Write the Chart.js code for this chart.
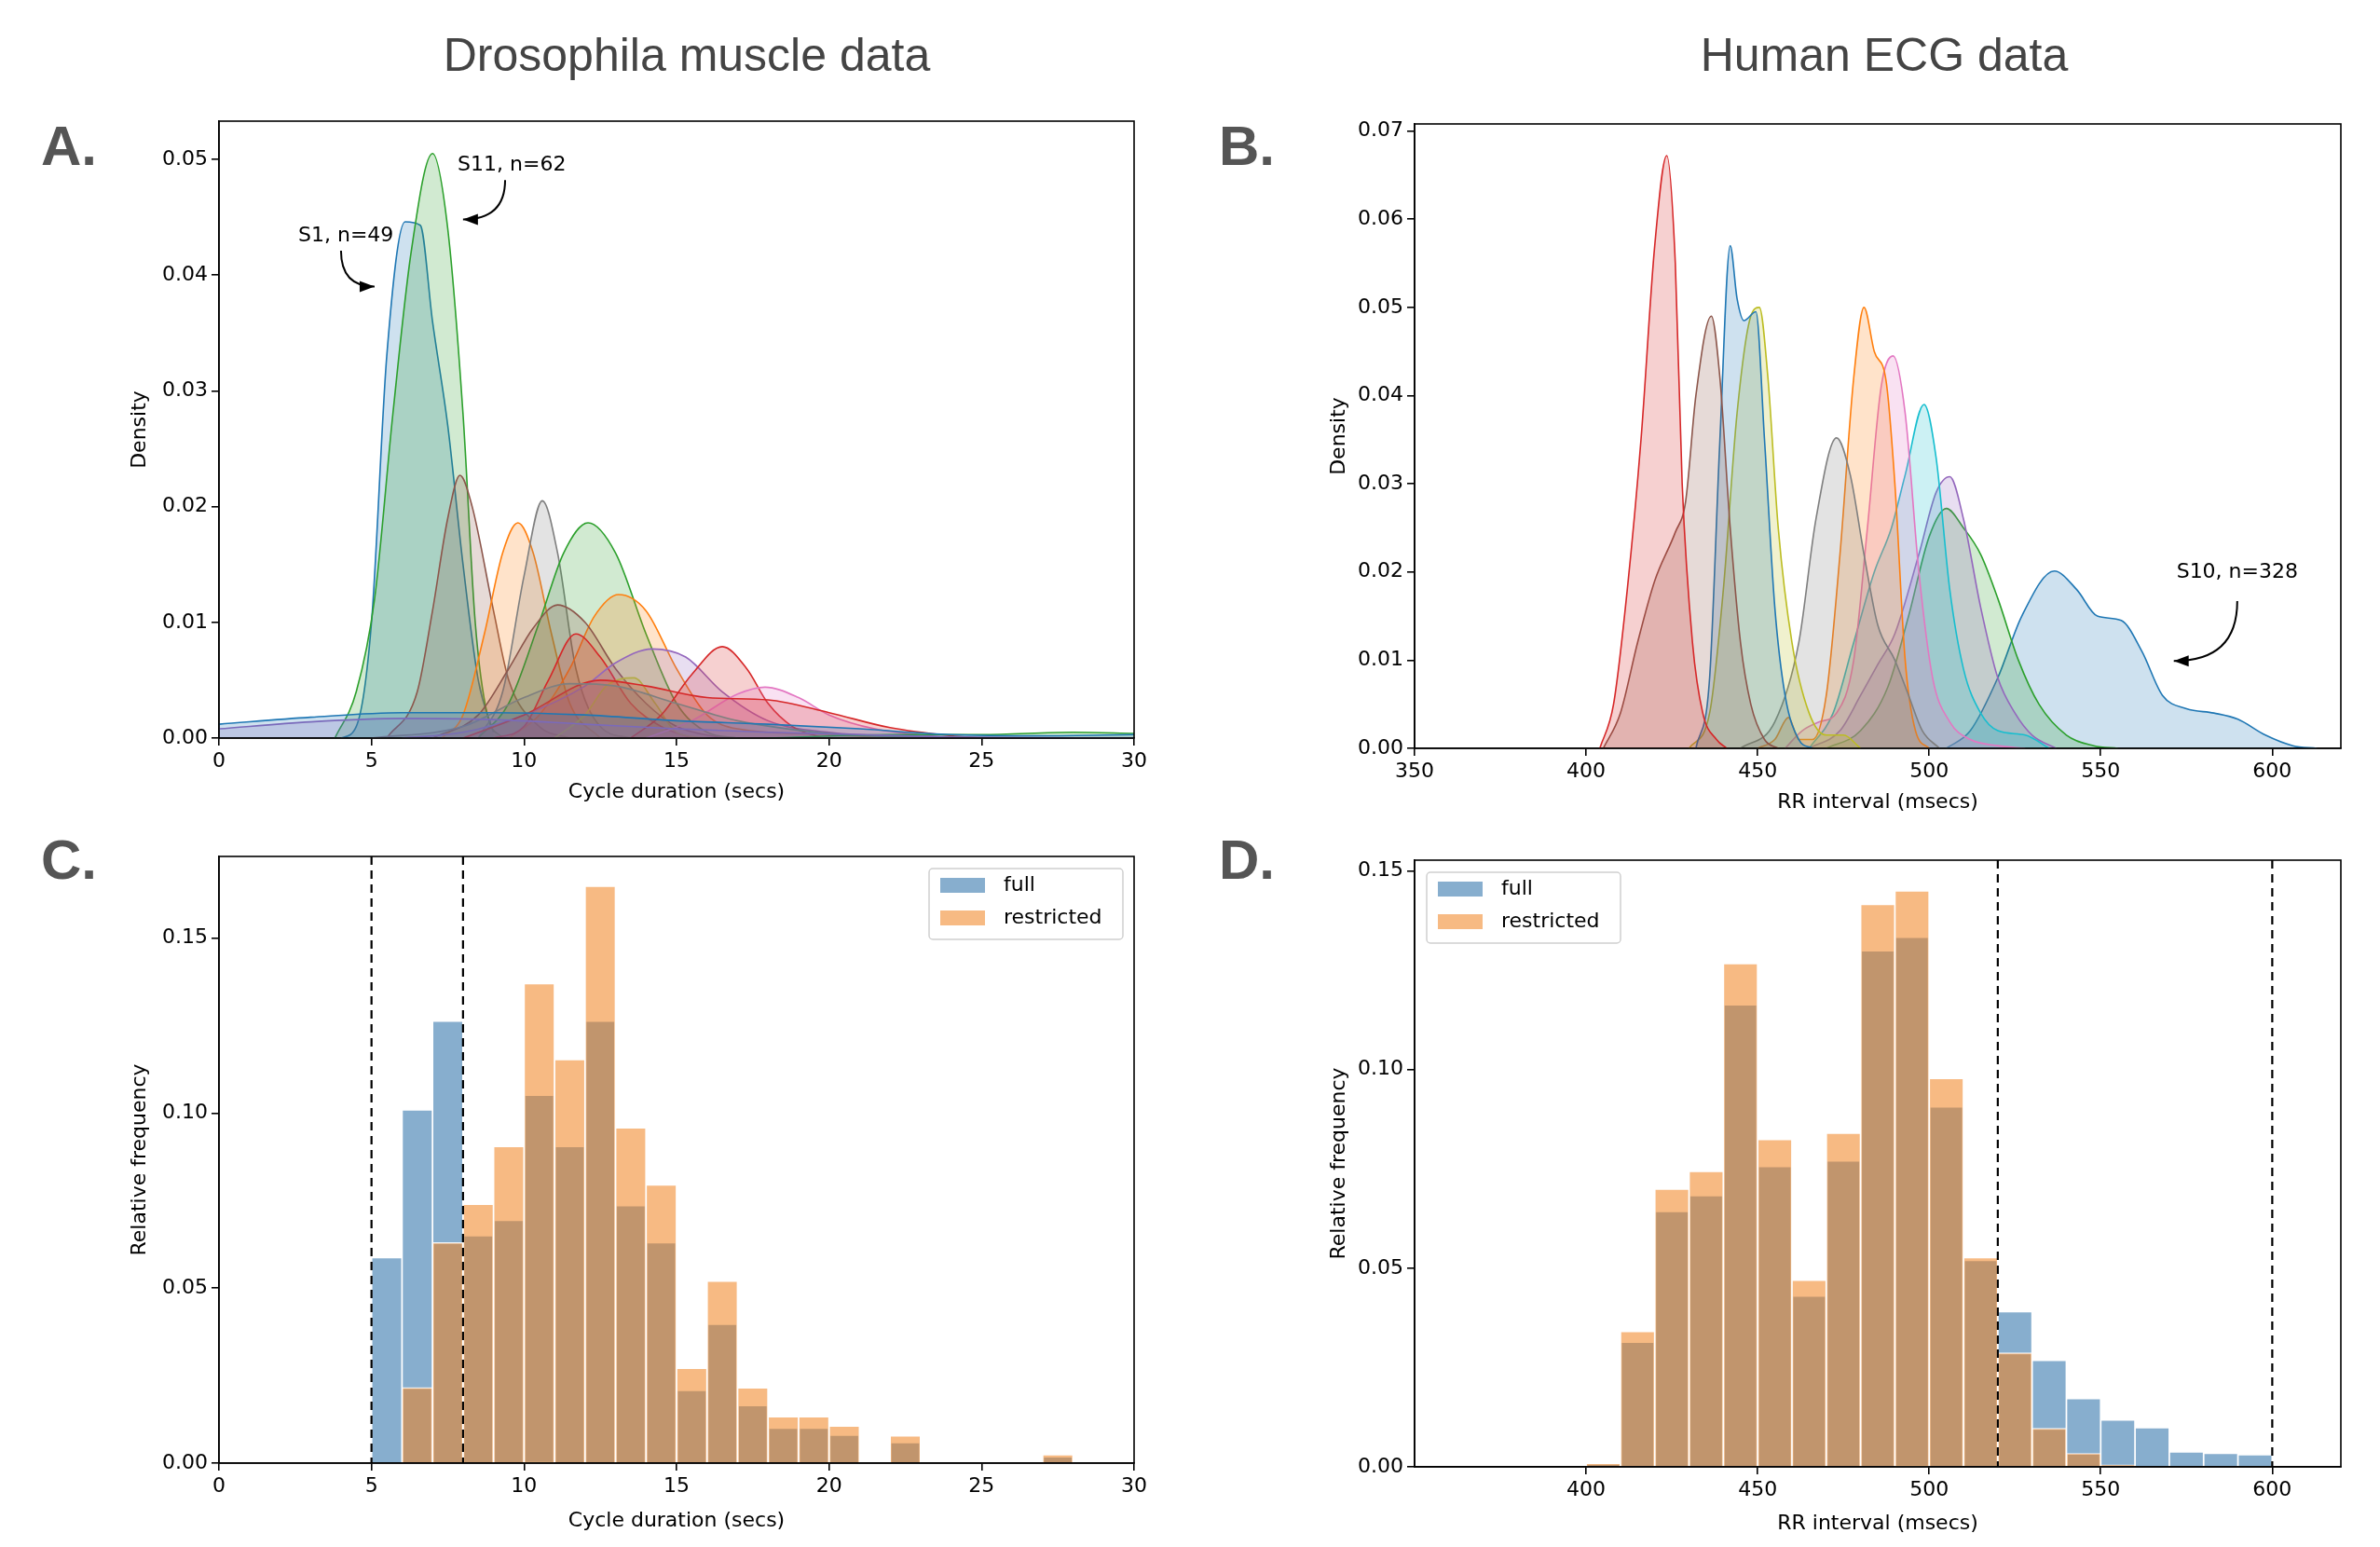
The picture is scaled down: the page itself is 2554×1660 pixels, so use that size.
<!DOCTYPE html>
<html><head><meta charset="utf-8">
<script src="https://cdn.jsdelivr.net/npm/chart.js@4"></script>
<style>
body{margin:0;background:#fff;}
#wrap{position:relative;width:2554px;height:1660px;background:#fff;font-family:"DejaVu Sans",sans-serif;}
canvas{position:absolute;z-index:1;}
.t{position:absolute;z-index:2;color:#444;font-size:50px;font-family:"Liberation Sans",Arial,sans-serif;transform:translateX(-50%);white-space:nowrap;}
.l{position:absolute;z-index:2;color:#555;font-size:60px;font-weight:bold;font-family:"Liberation Sans",Arial,sans-serif;}
</style></head><body>
<div id="wrap">
<div class="t" style="left:737px;top:30px;">Drosophila muscle data</div>
<div class="t" style="left:2022px;top:30px;">Human ECG data</div>
<div class="l" style="left:44px;top:122px;">A.</div>
<div class="l" style="left:1308px;top:122px;">B.</div>
<div class="l" style="left:44px;top:888px;">C.</div>
<div class="l" style="left:1308px;top:888px;">D.</div>
<canvas id="cA" width="1160" height="790" style="left:90px;top:100px"></canvas>
<canvas id="cB" width="1170" height="790" style="left:1370px;top:100px"></canvas>
<canvas id="cC" width="1160" height="775" style="left:90px;top:880px"></canvas>
<canvas id="cD" width="1170" height="775" style="left:1370px;top:880px"></canvas>
</div>
<script>
// ---------- Panel A: Drosophila KDE curves ----------
const aBlueX = [4,4.5,5,5.5,6.1,6.6,7,7.5,8,8.5,9];
const aBlueY = [0,0.001,0.01,0.033,0.0446,0.0443,0.036,0.027,0.015,0.005,0.0005];
const aGreenX = [3.8,4.5,5.1,5.7,6.3,7.0,7.5,8.0,8.4,8.8,9.3];
const aGreenY = [0,0.004,0.012,0.028,0.042,0.0505,0.044,0.028,0.01,0.002,0];
const aBrownX = [5.5,6.5,7,7.5,7.9,8.3,9,9.5,10.5,11.5];
const aBrownY = [0,0.004,0.011,0.019,0.0227,0.02,0.011,0.005,0.001,0];
const aOrangeX = [7.3,8,8.7,9.3,9.8,10.3,10.9,11.5,12.5];
const aOrangeY = [0,0.002,0.009,0.016,0.0186,0.016,0.009,0.003,0];
const aGreyX = [8.5,9.3,10,10.6,11.1,11.7,12.5,13.5];
const aGreyY = [0,0.004,0.014,0.0205,0.016,0.006,0.001,0];
const aGreen2X = [8.5,9.5,10.5,11.3,12.1,13,14,15,16,17];
const aGreen2Y = [0,0.003,0.01,0.016,0.0186,0.016,0.009,0.003,0.0005,0];
const aOrange2X = [9.5,10.5,11.5,12.3,13.1,14,15,16,17,20,22];
const aOrange2Y = [0,0.002,0.006,0.0105,0.0124,0.011,0.006,0.002,0.0008,0.0003,0];
const aBrown2X = [7,8.5,9.5,10.3,11.1,12,13,14,15,16.5];
const aBrown2Y = [0,0.002,0.006,0.0095,0.0115,0.01,0.006,0.003,0.001,0];
const aRedX = [9,10,10.8,11.7,12.5,13.5,14.5,15.5];
const aRedY = [0,0.001,0.005,0.009,0.007,0.003,0.001,0];
const aPurpleX = [6,8,10,12,13,14.2,15.3,16.5,18,20,23,25];
const aPurpleY = [0,0.0005,0.002,0.0045,0.0065,0.0077,0.007,0.004,0.0015,0.0005,0.0001,0];
const aRed2X = [13.5,14.5,15.5,16.5,17.3,18,18.8,19.8];
const aRed2Y = [0,0.002,0.0055,0.0079,0.006,0.003,0.001,0];
const aPinkX = [14,15.5,17,17.9,19,20,21.5,24];
const aPinkY = [0,0.0015,0.0038,0.0044,0.0035,0.002,0.0008,0];
const aRed3X = [8,10,12.5,14,16,18,20,22,24,25];
const aRed3Y = [0,0.002,0.005,0.0045,0.0035,0.0033,0.0022,0.0009,0.0002,0];
const aOliveX = [11,12,12.7,13.6,14.3,15,16];
const aOliveY = [0,0.002,0.0045,0.0052,0.003,0.0005,0];
const aBlueFlatX = [0,3,6,9,12,15,18,21,24,27,30];
const aBlueFlatY = [0.0012,0.0018,0.0022,0.0022,0.002,0.0015,0.0012,0.0008,0.0003,0.0002,0.0003];
const aPurpleFlatX = [0,3,6,9,12,15,18,21,24,30];
const aPurpleFlatY = [0.0008,0.0014,0.0017,0.0016,0.0012,0.0008,0.0005,0.0003,0.0001,0];
const aGreyBroadX = [5,8,10,11.5,13,15,17,20,23];
const aGreyBroadY = [0,0.001,0.0035,0.0047,0.0045,0.003,0.0015,0.0004,0];
const aTealFlatX = [18,22,25,28,30];
const aTealFlatY = [0,0.0003,0.0003,0.0005,0.0004];

// ---------- Panel B: ECG KDE curves ----------
const bRedX = [404,408,412,416,420,423.5,426,428,431,434,438,441];
const bRedY = [0,0.005,0.018,0.035,0.057,0.0672,0.055,0.03,0.012,0.004,0.001,0];
const bBrownX = [405,410,415,420,426,429,432,436.5,439,442,445,448,452,456];
const bBrownY = [0,0.004,0.012,0.019,0.0245,0.028,0.04,0.049,0.042,0.025,0.012,0.005,0.001,0];
const bBlueX = [432,436,439,442,444,446,449.5,452,455,458,462,466];
const bBlueY = [0,0.008,0.035,0.057,0.051,0.0485,0.0495,0.035,0.016,0.006,0.001,0];
const bOliveX = [430,436,440,444,448,450.5,453,456,460,465,470,475,480];
const bOliveY = [0,0.004,0.018,0.038,0.049,0.050,0.042,0.025,0.012,0.004,0.0015,0.0015,0];
const bGreyX = [445,455,462,467,473,477,481,485,490,494,498,503];
const bGreyY = [0,0.003,0.012,0.026,0.0352,0.031,0.022,0.014,0.01,0.006,0.002,0];
const bOrangeX = [450,455,459,462,466,470,474,478,481,484,487.5,490,493,496,500];
const bOrangeY = [0,0.001,0.0035,0.001,0.001,0.006,0.022,0.042,0.050,0.045,0.0415,0.03,0.01,0.002,0];
const bPinkX = [458,463,468,473,478,482,486,489.5,493,497,501,506,512,520,528];
const bPinkY = [0,0.002,0.003,0.004,0.01,0.025,0.041,0.0445,0.038,0.02,0.008,0.003,0.001,0.0003,0];
const bCyanX = [465,472,478,484,489,493,498.5,502,506,510,515,520,528,535];
const bCyanY = [0,0.004,0.012,0.02,0.025,0.031,0.039,0.033,0.018,0.009,0.004,0.002,0.0015,0];
const bPurpleX = [465,474,480,485,490,497,502,506,510,515,520,525,530,537];
const bPurpleY = [0,0.002,0.006,0.0095,0.013,0.022,0.029,0.0308,0.026,0.016,0.008,0.004,0.0015,0];
const bGreenX = [470,480,488,494,500,505,510,515,520,526,532,540,548,555];
const bGreenY = [0,0.002,0.007,0.015,0.024,0.0272,0.025,0.022,0.017,0.01,0.005,0.0015,0.0003,0];
const bS10X = [505,512,520,527,536.5,543,549,556,562,568,575,583,590,598,606,613];
const bS10Y = [0,0.002,0.008,0.015,0.0201,0.018,0.015,0.0145,0.011,0.006,0.0045,0.004,0.0033,0.0015,0.0003,0];

// ---------- Panel C: histogram (bins width 1, starting at 5) ----------
const cBinStart = 5, cBinWidth = 1;
const cFull = [0.0587,0.1009,0.1263,0.065,0.0694,0.1051,0.0905,0.1263,0.0736,0.063,0.0208,0.0397,0.0165,0.010,0.010,0.008,0,0.0059,0,0,0,0,0.0018];
const cRestricted = [0,0.0216,0.063,0.074,0.0905,0.137,0.1153,0.1648,0.0958,0.0795,0.0271,0.052,0.0215,0.0133,0.0133,0.0106,0,0.0078,0,0,0,0,0.0024];
const cCutoffs = [5,8];

// ---------- Panel D: histogram (bins width 10, starting at 400) ----------
const dBinStart = 400, dBinWidth = 10;
const dFull = [0.0008,0.0314,0.0643,0.0683,0.1163,0.0756,0.043,0.077,0.1299,0.1333,0.0906,0.052,0.0391,0.0268,0.0172,0.0118,0.0099,0.0038,0.0034,0.0031];
const dRestricted = [0.0009,0.0341,0.0699,0.0744,0.1267,0.0824,0.047,0.084,0.1416,0.145,0.0978,0.0527,0.0287,0.0097,0.0034,0.0005,0,0,0,0];
const dCutoffs = [520,600];

const seriesLabels = ['full','restricted'];

// ---------- helpers ----------
const TAB = {blue:'31,119,180',orange:'255,127,14',green:'44,160,44',red:'214,39,40',purple:'148,103,189',brown:'140,86,75',pink:'227,119,194',grey:'127,127,127',olive:'188,189,34',cyan:'23,190,207'};
const FONT = {family:'"DejaVu Sans"', size:22};
function kde(xs, ys, col){
  return {data: xs.map((x,i)=>({x:x,y:ys[i]})), borderColor:'rgb('+col+')', backgroundColor:'rgba('+col+',0.22)',
    fill:'origin', borderWidth:1.6, pointRadius:0, cubicInterpolationMode:'monotone'};
}
function bars(start,w,vals){ return vals.map((v,i)=>({x:start+w*(i+0.5), y:v})); }

const frame = {id:'frame', afterDraw(c){const a=c.chartArea,x=c.ctx;x.save();x.strokeStyle='#000';x.lineWidth=1.6;x.strokeRect(a.left,a.top,a.right-a.left,a.bottom-a.top);x.restore();}};
const whiteBg = {id:'wbg', beforeDraw(c){const x=c.ctx;x.save();x.fillStyle='#fff';x.fillRect(0,0,c.width,c.height);x.restore();}};
const cutLines = {id:'cut', afterDatasetsDraw(c,args,opts){const x=c.ctx,a=c.chartArea;x.save();x.strokeStyle='#000';x.lineWidth=2.2;x.setLineDash([9,6]);
  (opts.values||[]).forEach(v=>{const px=c.scales.x.getPixelForValue(v);x.beginPath();x.moveTo(px,a.top);x.lineTo(px,a.bottom);x.stroke();});x.restore();}};
const annot = {id:'annot', afterDatasetsDraw(c,args,opts){const x=c.ctx,sx=c.scales.x,sy=c.scales.y;x.save();
  (opts.items||[]).forEach(it=>{x.fillStyle='#000';x.font='22px "DejaVu Sans"';x.textAlign='center';x.textBaseline='middle';
    x.fillText(it.text,sx.getPixelForValue(it.tx),sy.getPixelForValue(it.ty));
    const x0=sx.getPixelForValue(it.a0[0]),y0=sy.getPixelForValue(it.a0[1]),x1=sx.getPixelForValue(it.a1[0]),y1=sy.getPixelForValue(it.a1[1]);
    const cx=x0,cy=y1;x.strokeStyle='#000';x.lineWidth=2;x.beginPath();x.moveTo(x0,y0);x.quadraticCurveTo(cx,cy,x1,y1);x.stroke();
    const ang=Math.atan2(y1-cy,x1-cx);x.beginPath();x.moveTo(x1,y1);x.lineTo(x1-16*Math.cos(ang)+6*Math.sin(ang),y1-16*Math.sin(ang)-6*Math.cos(ang));
    x.lineTo(x1-16*Math.cos(ang)-6*Math.sin(ang),y1-16*Math.sin(ang)+6*Math.cos(ang));x.closePath();x.fill();});x.restore();}};
const boxLegend = {id:'boxLegend', afterDraw(c,args,opts){const x=c.ctx,a=c.chartArea;const w=208,h=76;
  const left=opts.side==='right'?a.right-12-w:a.left+13, top=a.top+13;x.save();
  x.fillStyle='rgba(255,255,255,0.85)';x.strokeStyle='#d0d0d0';x.lineWidth=1.5;x.beginPath();x.roundRect(left,top,w,h,4);x.fill();x.stroke();
  c.data.datasets.forEach((d,i)=>{const yy=top+18+i*35;x.fillStyle=d.backgroundColor;x.fillRect(left+12,yy-8,48,16);
    x.fillStyle='#000';x.font='22px "DejaVu Sans"';x.textAlign='left';x.textBaseline='middle';x.fillText(d.label,left+80,yy);});x.restore();}};

function axes(o){
  return {
    x:{type:'linear',min:o.xmin,max:o.xmax,offset:false,
      afterFit(s){s.height=o.xh;},
      afterBuildTicks(s){ if(o.xfilter) s.ticks=s.ticks.filter(t=>t.value>=o.xfilter); },
      grid:{display:true,offset:false,drawOnChartArea:false,drawTicks:true,tickLength:8,color:'#000',lineWidth:1.6},
      border:{display:true,color:'#000',width:1.6},
      ticks:{stepSize:o.xstep,includeBounds:false,color:'#000',font:FONT,maxRotation:0,padding:4},
      title:{display:true,text:o.xt,color:'#000',font:FONT,padding:{top:0,bottom:o.xtp}}},
    y:{type:'linear',min:0,max:o.ymax,
      afterFit(s){s.width=o.yw;},
      grid:{display:true,drawOnChartArea:false,drawTicks:true,tickLength:8,color:'#000',lineWidth:1.6},
      border:{display:true,color:'#000',width:1.6},
      ticks:{stepSize:o.ystep,includeBounds:false,color:'#000',font:FONT,padding:4,callback:v=>v.toFixed(2)},
      title:{display:true,text:o.yt,color:'#000',font:FONT,padding:{top:o.ytp,bottom:0}}}
  };
}
const base = {responsive:false,animation:false,devicePixelRatio:1};

new Chart(document.getElementById('cA'),{type:'line',
  data:{datasets:[kde(aBlueFlatX,aBlueFlatY,TAB.blue),kde(aPurpleFlatX,aPurpleFlatY,TAB.purple),kde(aTealFlatX,aTealFlatY,TAB.green),
    kde(aGreyBroadX,aGreyBroadY,TAB.grey),kde(aRed3X,aRed3Y,TAB.red),kde(aPinkX,aPinkY,TAB.pink),kde(aRed2X,aRed2Y,TAB.red),
    kde(aPurpleX,aPurpleY,TAB.purple),kde(aOliveX,aOliveY,TAB.olive),kde(aRedX,aRedY,TAB.red),kde(aBrown2X,aBrown2Y,TAB.brown),
    kde(aOrange2X,aOrange2Y,TAB.orange),kde(aGreen2X,aGreen2Y,TAB.green),kde(aGreyX,aGreyY,TAB.grey),kde(aOrangeX,aOrangeY,TAB.orange),
    kde(aBrownX,aBrownY,TAB.brown),kde(aGreenX,aGreenY,TAB.green),kde(aBlueX,aBlueY,TAB.blue)]},
  options:Object.assign({},base,{layout:{padding:{top:30,right:33,left:0,bottom:0}},
    scales:axes({xmin:0,xmax:30,xstep:5,xh:98,xt:'Cycle duration (secs)',xtp:27,ymax:0.0533,ystep:0.01,yw:145,yt:'Density',ytp:47}),
    plugins:{legend:{display:false},tooltip:{enabled:false},
      annot:{items:[{text:'S1, n=49',tx:4.16,ty:0.0434,a0:[4.0,0.0421],a1:[5.1,0.039]},
                    {text:'S11, n=62',tx:9.6,ty:0.0495,a0:[9.38,0.0482],a1:[8.0,0.0448]}]}}}),
  plugins:[whiteBg,frame,annot]});

new Chart(document.getElementById('cB'),{type:'line',
  data:{datasets:[kde(bRedX,bRedY,TAB.red),kde(bBrownX,bBrownY,TAB.brown),kde(bBlueX,bBlueY,TAB.blue),kde(bOliveX,bOliveY,TAB.olive),
    kde(bGreyX,bGreyY,TAB.grey),kde(bOrangeX,bOrangeY,TAB.orange),kde(bPinkX,bPinkY,TAB.pink),kde(bCyanX,bCyanY,TAB.cyan),
    kde(bPurpleX,bPurpleY,TAB.purple),kde(bGreenX,bGreenY,TAB.green),kde(bS10X,bS10Y,TAB.blue)]},
  options:Object.assign({},base,{layout:{padding:{top:33,right:28,left:0,bottom:0}},
    scales:axes({xmin:350,xmax:620,xstep:50,xh:87,xt:'RR interval (msecs)',xtp:16,ymax:0.0708,ystep:0.01,yw:148,yt:'Density',ytp:54}),
    plugins:{legend:{display:false},tooltip:{enabled:false},
      annot:{items:[{text:'S10, n=328',tx:589.8,ty:0.0199,a0:[589.8,0.0167],a1:[571.3,0.0099]}]}}}),
  plugins:[whiteBg,frame,annot]});

function histChart(id,start,w,full,restr,o,cuts,side){
  new Chart(document.getElementById(id),{type:'bar',
    data:{datasets:[
      {label:seriesLabels[0],data:bars(start,w,full),backgroundColor:'rgba(70,130,180,0.65)',borderColor:'rgba(255,255,255,0.9)',borderWidth:1.2,order:2,barPercentage:1,categoryPercentage:1,grouped:false},
      {label:seriesLabels[1],data:bars(start,w,restr),backgroundColor:'rgba(240,130,30,0.55)',borderColor:'rgba(255,255,255,0.9)',borderWidth:1.2,order:1,barPercentage:1,categoryPercentage:1,grouped:false}]},
    options:Object.assign({},base,{layout:{padding:o.pad},scales:axes(o),
      plugins:{legend:{display:false},tooltip:{enabled:false},cut:{values:cuts},boxLegend:{side:side}}}),
    plugins:[whiteBg,frame,cutLines,boxLegend]});
}
histChart('cC',cBinStart,cBinWidth,cFull,cRestricted,
  {pad:{top:39,right:33,left:0,bottom:0},xmin:0,xmax:30,xstep:5,xh:85,xt:'Cycle duration (secs)',xtp:10,ymax:0.1733,ystep:0.05,yw:145,yt:'Relative frequency',ytp:47},cCutoffs,'right');
histChart('cD',dBinStart,dBinWidth,dFull,dRestricted,
  {pad:{top:43,right:28,left:0,bottom:0},xmin:350,xmax:620,xstep:50,xfilter:400,xh:81,xt:'RR interval (msecs)',xtp:7,ymax:0.1527,ystep:0.05,yw:148,yt:'Relative frequency',ytp:54},dCutoffs,'left');
</script>
</body></html>
